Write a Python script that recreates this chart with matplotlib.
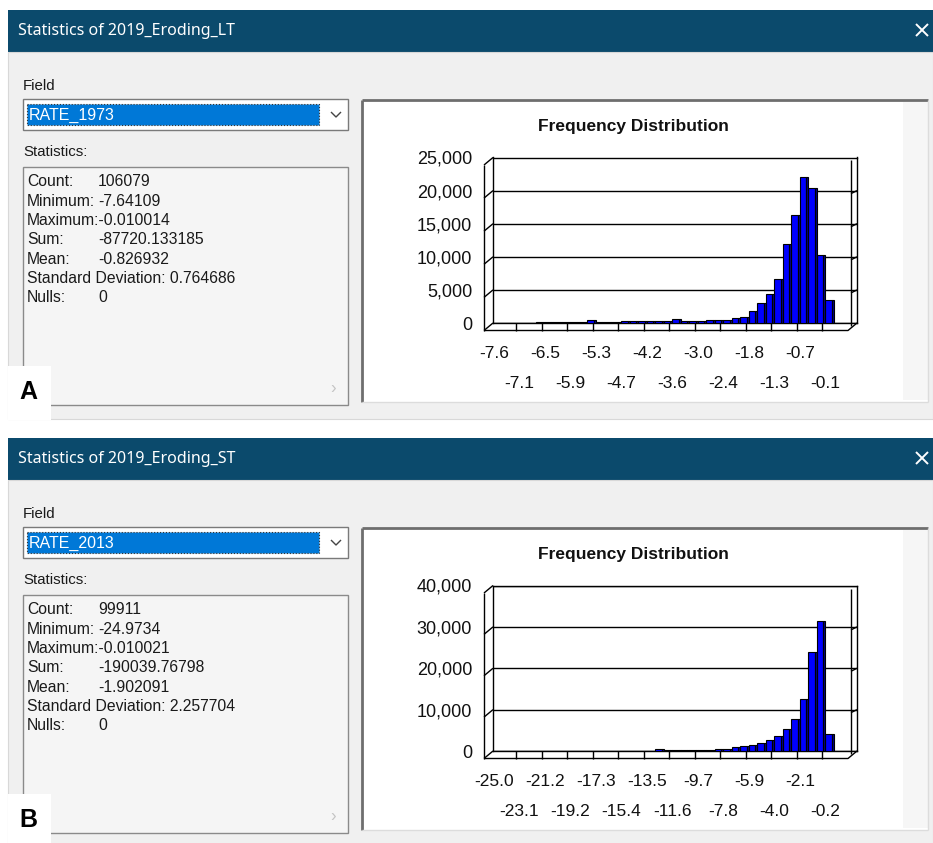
import matplotlib
matplotlib.use("Agg")
import matplotlib.pyplot as plt
from matplotlib.patches import Rectangle
from matplotlib.transforms import blended_transform_factory

plt.rcParams['font.family'] = ['Liberation Sans', 'DejaVu Sans']

W, H = 933, 843

titles = ["Statistics of 2019_Eroding_LT", "Statistics of 2019_Eroding_ST"]
fields = ["RATE_1973", "RATE_2013"]
tags = ["A", "B"]

stat_labels = ["Count:", "Minimum:", "Maximum:", "Sum:", "Mean:",
               "Standard Deviation:", "Nulls:"]
stats_a = ["106079", "-7.64109", "-0.010014", "-87720.133185", "-0.826932",
           "0.764686", "0"]
stats_b = ["99911", "-24.9734", "-0.010021", "-190039.76798", "-1.902091",
           "2.257704", "0"]

# 40 histogram bins each
counts_a = [60, 50, 60, 70, 60, 80, 90, 80, 90, 100, 110, 380, 130, 150, 150,
            250, 280, 300, 260, 280, 300, 550, 330, 330, 350, 380, 420, 520,
            800, 900, 1850, 2970, 4350, 6700, 12000, 16300, 22100, 20400,
            10300, 3400]
counts_b = [20, 20, 20, 15, 20, 15, 20, 15, 20, 15, 20, 20, 15, 20, 15, 20,
            60, 80, 120, 380, 350, 150, 300, 300, 260, 300, 380, 590, 900,
            1180, 1540, 1950, 2700, 3550, 5300, 7800, 12600, 23900, 31500,
            4170]

xlabels_a = ["-7.6", "-7.1", "-6.5", "-5.9", "-5.3", "-4.7", "-4.2", "-3.6",
             "-3.0", "-2.4", "-1.8", "-1.3", "-0.7", "-0.1"]
xlabels_b = ["-25.0", "-23.1", "-21.2", "-19.2", "-17.3", "-15.4", "-13.5",
             "-11.6", "-9.7", "-7.8", "-5.9", "-4.0", "-2.1", "-0.2"]

yticks_a = [0, 5000, 10000, 15000, 20000, 25000]
yticks_b = [0, 10000, 20000, 30000, 40000]

TITLE_BAR = "#0b4a6c"
BODY = "#f0f0f0"
SEL = "#0078d7"
BAR = "#0000ff"
BAR_SIDE = "#00008a"
TXT = "#1a1a1a"

fig = plt.figure(figsize=(W / 100, H / 100), dpi=100)
bg = fig.add_axes([0, 0, 1, 1])
bg.set_xlim(0, W)
bg.set_ylim(H, 0)
bg.axis("off")


def rect(x, y, w, h, **kw):
    bg.add_patch(Rectangle((x, y), w, h, **kw))


def line(xs, ys, **kw):
    bg.plot(xs, ys, solid_capstyle="butt", **kw)


def draw_panel(oy, title, field, tag, values, counts, xlabels, yticks):
    # window chrome
    rect(8, 10 + oy, W - 8, 42, fc=TITLE_BAR, ec="none")
    bg.text(18, 31 + oy, title, color="white", va="center", fontsize=11.5,
            family=["Noto Sans", "DejaVu Sans"])
    line([916, 928], [24 + oy, 36 + oy], color="white", lw=1.4)
    line([916, 928], [36 + oy, 24 + oy], color="white", lw=1.4)
    rect(8, 52 + oy, W - 8, 367, fc=BODY, ec="#d8d8d8", lw=0.8)

    # field combo
    bg.text(23, 86 + oy, "Field", va="center", fontsize=10.8, color=TXT)
    rect(23, 99 + oy, 325, 31, fc="white", ec="#7a7a7a", lw=1)
    rect(27, 104 + oy, 292, 21, fc=SEL, ec="#333333", lw=0.8, ls=":")
    bg.text(29, 115 + oy, field, color="white", va="center", fontsize=11.5)
    line([331, 336, 341], [112 + oy, 117 + oy, 112 + oy], color="#444444", lw=1)

    # statistics list
    bg.text(23, 152 + oy, "Statistics:", va="center", fontsize=10.8,
            color=TXT)
    rect(23, 167 + oy, 325, 238, fc="#f5f5f5", ec="#8a8a8a", lw=1)
    for i, (lab, val) in enumerate(zip(stat_labels, values)):
        y = 182 + oy + i * 19.3
        if lab.startswith("Standard"):
            bg.text(27, y, lab + " " + val, va="center", fontsize=11.3,
                    color=TXT)
        elif lab.startswith("Maximum"):
            bg.text(27, y, lab + val, va="center", fontsize=11.3, color=TXT)
        else:
            bg.text(27, y, lab, va="center", fontsize=11.3, color=TXT)
            bg.text(98, y, val, va="center", fontsize=11.3, color=TXT)
    bg.text(333, 389 + oy, "\u203a", va="center", ha="center", fontsize=12,
            color="#c4c4c4")

    # panel letter
    rect(8, 366 + oy, 43, 54, fc="white", ec="none")
    bg.text(28, 392 + oy, tag, ha="center", va="center", fontsize=18,
            fontweight="bold", color="black")

    # chart frame (sunken)
    rect(362, 100 + oy, 566, 302, fc="white", ec="none")
    rect(903, 102 + oy, 25, 298, fc="#f6f6f6", ec="none")
    line([362, 362], [402 + oy, 100 + oy], color="#6e6e6e", lw=2)
    line([362, 928], [100 + oy, 100 + oy], color="#6e6e6e", lw=2)
    line([928, 928], [100 + oy, 402 + oy], color="#dcdcdc", lw=1)
    line([362, 928], [402 + oy, 402 + oy], color="#dcdcdc", lw=1)
    bg.text(633, 126 + oy, "Frequency Distribution", ha="center", va="center",
            fontsize=12.5, fontweight="bold", color="#111111")

    # histogram axes = back wall of the 3D chart
    left, right, top, bottom = 493, 857, 157.5 + oy, 323 + oy
    ax = fig.add_axes([left / W, 1 - bottom / H, (right - left) / W,
                       (bottom - top) / H])
    ax.set_facecolor("none")
    pxu = 8.5
    x0 = -0.117
    x1 = x0 + (right - left) / pxu
    ymax = yticks[-1]
    ax.set_xlim(x0, x1)
    ax.set_ylim(0, ymax)
    for s in ax.spines.values():
        s.set_color("black")
        s.set_linewidth(1)

    idx = list(range(len(counts)))
    ax.bar(idx, counts, width=0.72, align="edge", color=BAR,
           edgecolor="black", lw=0.8, zorder=3)
    ax.bar([i + 0.72 for i in idx], counts, width=0.28, align="edge",
           color=BAR_SIDE, edgecolor="black", lw=0.8, zorder=3)

    ax.set_yticks(yticks, [f"{v:,}" for v in yticks], fontsize=13,
                  color="#111111")
    ax.tick_params(axis="y", length=0, pad=15)
    ax.set_xticks([])
    ax.yaxis.grid(True, color="black", lw=1)
    ax.set_axisbelow(True)

    # 3D depth edges
    dx = 9 / pxu
    dy = 7.5 * ymax / (bottom - top)
    k = dict(color="black", lw=1, clip_on=False, solid_capstyle="butt")
    ax.plot([x0 - dx, x0 - dx], [-dy, ymax - dy], **k)
    ax.plot([x0 - dx, x0], [ymax - dy, ymax], **k)
    ax.plot([x0 - dx, x1 - dx, x1], [-dy, -dy, 0], **k)
    ax.plot([x0 - dx, x0], [-dy, 0], **k)
    for v in yticks[1:-1]:
        ax.plot([x0 - dx, x0], [v - dy, v], **k)
    xr = x1 - 6 / pxu
    dyr = 3 * ymax / (bottom - top)
    ax.plot([xr, xr], [-dyr, ymax - dyr], **k)
    for v in yticks[1:-1]:
        ax.plot([xr, x1], [v - dyr, v], **k)
    for t in range(1, len(xlabels)):
        xt = 3 * t - 3 / pxu
        ax.plot([xt, xt], [0, -dy], **k)

    tr = blended_transform_factory(ax.transData, bg.transData)
    for t, lab in enumerate(xlabels):
        ty = (353 if t % 2 == 0 else 383) + oy
        ax.text(3 * t, ty, lab, transform=tr, ha="center", va="center",
                fontsize=12.5, color="#111111", clip_on=False)


draw_panel(0, titles[0], fields[0], tags[0], stats_a, counts_a, xlabels_a,
           yticks_a)
draw_panel(428, titles[1], fields[1], tags[1], stats_b, counts_b, xlabels_b,
           yticks_b)

fig.savefig("out.png", dpi=100, facecolor="white")
